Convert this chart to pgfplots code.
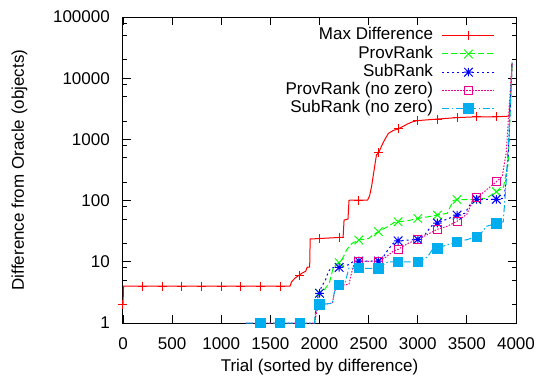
\documentclass[border=0pt]{standalone}
\usepackage{pgfplots}
\pgfplotsset{compat=1.18}
\usepackage{fontspec}
\setmainfont{Liberation Sans}
\pgfdeclareplotmark{gpstar}{%
  \pgfpathmoveto{\pgfqpoint{-\pgfplotmarksize}{0pt}}\pgfpathlineto{\pgfqpoint{\pgfplotmarksize}{0pt}}%
  \pgfpathmoveto{\pgfqpoint{0pt}{-\pgfplotmarksize}}\pgfpathlineto{\pgfqpoint{0pt}{\pgfplotmarksize}}%
  \pgfpathmoveto{\pgfqpoint{-\pgfplotmarksize}{-\pgfplotmarksize}}\pgfpathlineto{\pgfqpoint{\pgfplotmarksize}{\pgfplotmarksize}}%
  \pgfpathmoveto{\pgfqpoint{-\pgfplotmarksize}{\pgfplotmarksize}}\pgfpathlineto{\pgfqpoint{\pgfplotmarksize}{-\pgfplotmarksize}}%
  \pgfusepathqstroke}
\pgfplotsset{
  s1/.style={red, solid, line width=1pt, mark=+, mark size=4.5pt, mark options={solid}},
  s2/.style={color=green, line width=1pt, dash pattern=on 6pt off 3pt, mark=x, mark size=6pt, mark options={solid}},
  s3/.style={blue, line width=1pt, dash pattern=on 2pt off 3pt, mark=gpstar, mark size=4.3pt, mark options={solid}},
  s4/.style={magenta, line width=1pt, dash pattern=on 1.5pt off 1.5pt, mark=square, mark size=4pt, mark options={solid}},
  s5/.style={cyan, line width=1pt, dash pattern=on 7pt off 2.5pt on 1.5pt off 2.5pt, mark=square*, mark size=4.7pt, mark options={solid, fill=cyan}},
}
\begin{document}
\begin{tikzpicture}[x=1pt,y=1pt]
\path[use as bounding box] (-123,-53) rectangle (417,323);
\begin{axis}[
  at={(0,0)}, anchor=south west, scale only axis, width=393pt, height=306pt,
  xmin=0, xmax=4000, ymode=log, ymin=1, ymax=100000,
  xtick={0,500,...,4000},
  xticklabels={0,500,1000,1500,2000,2500,3000,3500,4000},
  ytick={1,10,100,1000,10000,100000},
  yticklabels={1,10,100,1000,10000,100000},
  minor ytick={2,5,8,20,50,80,200,500,800,2000,5000,8000,20000,50000,80000},
  tick align=inside, xtick pos=both, ytick pos=both,
  major tick length=8pt, minor tick length=4pt,
  every tick/.style={black, line width=0.8pt},
  axis line style={line width=1pt},
  tick label style={font=\fontsize{17}{20}\selectfont},
  xticklabel style={anchor=north, inner sep=0pt, yshift=-14pt},
  yticklabel style={anchor=east, inner sep=0pt, xshift=-13pt},
  label style={font=\fontsize{17}{20}\selectfont},
  xlabel={Trial (sorted by difference)},
  ylabel={Difference from Oracle (objects)},
  xlabel style={at={(axis description cs:0.5,-0.160)}, anchor=base, inner sep=0pt},
  ylabel style={at={(axis description cs:-0.252,0.5)}, anchor=base, inner sep=0pt},
  legend style={draw=none, fill=none, at={(axis description cs:0.947,0.969)}, anchor=north east,
    font=\fontsize{17}{20}\selectfont, inner sep=0pt, column sep=8pt,
    nodes={inner sep=1pt, text height=12.2pt, text depth=4pt}},
  legend cell align=right, legend plot pos=right,
  legend image code/.code={\draw[mark repeat=2,mark phase=2] plot coordinates {(0pt,0pt)(26pt,0pt)(52pt,0pt)};},
]
\addlegendimage{s1}\addlegendentry{Max Difference}
\addlegendimage{s2}\addlegendentry{ProvRank}
\addlegendimage{s3}\addlegendentry{SubRank}
\addlegendimage{s4}\addlegendentry{ProvRank (no zero)}
\addlegendimage{s5}\addlegendentry{SubRank (no zero)}

% Max Difference
\addplot[s1, no marks, forget plot] coordinates {
(0,2) (6,4) (1700,4) (1716,4.7) (1750,5.4) (1790,6) (1820,6.5) (1860,7) (1875,8.2) (1900,8.2)
(1905,23.6) (2000,24) (2200,25) (2240,25) (2250,48) (2290,50) (2300,100) (2310,102)
(2490,102) (2510,120) (2530,170) (2560,350) (2580,560) (2600,600) (2650,900) (2700,1250)
(2750,1400) (2800,1480) (2900,1800) (2950,1950) (3000,2030) (3200,2150) (3400,2270)
(3600,2340) (3800,2340) (3930,2400) (3945,5000) (3960,18000)};
\addplot[s1, only marks, forget plot] coordinates {
(0,2) (200,4) (400,4) (600,4) (800,4) (1000,4) (1200,4) (1400,4) (1600,4) (1800,6)
(2000,24) (2200,25) (2400,100) (2600,600) (2800,1480) (3000,2030) (3200,2150) (3400,2270)
(3600,2340) (3800,2340)};

% ProvRank
\addplot[s2, no marks, forget plot] coordinates {
(1950,1) (1965,2) (1985,2.8) (2000,3.06) (2050,3.5) (2100,4.5) (2120,6) (2140,8) (2180,9.4)
(2200,9.7) (2230,11) (2280,16) (2330,20) (2400,22.7) (2500,24) (2550,28) (2600,31) (2700,38)
(2760,44) (2800,45) (2900,47) (3000,51) (3150,56) (3200,58) (3300,62) (3360,100) (3400,104)
(3600,104) (3700,110) (3800,140) (3870,160) (3920,400) (3960,18000)};
\addplot[s2, only marks, forget plot] coordinates {
(2000,3.06) (2200,9.7) (2400,22.7) (2600,31) (2800,45) (3000,51) (3200,58) (3400,104)
(3600,104) (3800,140)};

% SubRank
\addplot[s3, no marks, forget plot] coordinates {
(1950,1) (1970,2) (1990,3) (2000,3.06) (2020,3.9) (2060,5) (2090,6.9) (2120,8) (2200,8.1)
(2300,9) (2350,10.3) (2600,10.3) (2650,12) (2700,16) (2750,20) (2800,22) (3000,23.3)
(3060,26) (3100,32) (3150,40) (3200,43) (3300,50) (3400,58) (3480,62) (3520,80) (3560,100)
(3600,105) (3800,105) (3880,110) (3920,500) (3960,18000)};
\addplot[s3, only marks, forget plot] coordinates {
(2000,3.06) (2200,8.1) (2400,10.3) (2600,10.3) (2800,22) (3000,23.3) (3200,43) (3400,58)
(3600,105) (3800,105)};

% ProvRank (no zero)
\addplot[s4, no marks, forget plot] coordinates {
(1250,1) (1950,1) (1970,1.5) (1990,2) (2000,2) (2130,2.1) (2150,3) (2170,4) (2200,4.1)
(2300,4.3) (2320,6) (2340,8) (2360,10) (2600,10.3) (2680,12) (2750,15) (2800,16) (2900,20)
(3000,23.3) (3100,28) (3200,34) (3300,38) (3400,46) (3500,60) (3560,100) (3600,111)
(3700,150) (3800,203) (3860,250) (3900,600) (3960,18000)};
\addplot[s4, only marks, forget plot] coordinates {
(1400,1) (1600,1) (1800,1) (2000,2) (2200,4.1) (2400,10) (2600,10.3) (2800,16) (3000,23.3)
(3200,34) (3400,46) (3600,111) (3800,203)};

% SubRank (no zero)
\addplot[s5, no marks, forget plot] coordinates {
(1250,1) (1950,1) (1960,1.5) (1975,2) (2000,2) (2130,2.1) (2150,3.1) (2175,4.2) (2200,4.2)
(2260,4.5) (2280,6) (2300,7.9) (2600,7.8) (2650,9) (2700,10) (3000,10) (3100,12) (3150,16)
(3200,16.6) (3300,19) (3400,21.3) (3500,23) (3600,25.7) (3650,30) (3700,38) (3800,42.5)
(3870,45) (3900,200) (3940,3000) (3960,18000)};
\addplot[s5, only marks, forget plot] coordinates {
(1400,1) (1600,1) (1800,1) (2000,2) (2200,4.2) (2400,7.9) (2600,7.8) (2800,10) (3000,10)
(3200,16.6) (3400,21.3) (3600,25.7) (3800,42.5)};
\end{axis}
\end{tikzpicture}
\end{document}
